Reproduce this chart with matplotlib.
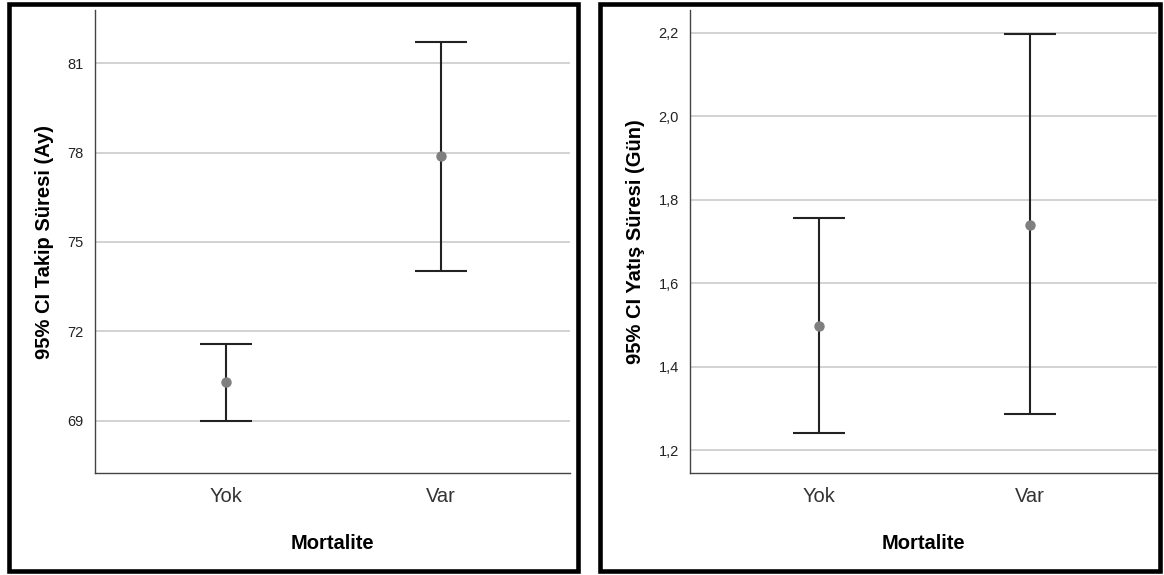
import matplotlib.pyplot as plt
from matplotlib.patches import Rectangle

plt.rcParams['font.family'] = ['Liberation Sans', 'DejaVu Sans']

# Data
groups = ['Yok', 'Var']

takip_mean = [70.31, 77.88]
takip_low = [69.00, 74.03]
takip_high = [71.59, 81.71]
takip_ticks = [69, 72, 75, 78, 81]
takip_ticklabels = ['69', '72', '75', '78', '81']

yatis_mean = [1.498, 1.740]
yatis_low = [1.241, 1.286]
yatis_high = [1.756, 2.197]
yatis_ticks = [1.2, 1.4, 1.6, 1.8, 2.0, 2.2]
yatis_ticklabels = ['1,2', '1,4', '1,6', '1,8', '2,0', '2,2']

fig = plt.figure(figsize=(11.64, 5.75), dpi=100)

# thick black panel frames
W, H = 1164, 575
for x0, x1 in [(9, 578), (600, 1160)]:
    fig.patches.append(Rectangle((x0 / W, 4 / H), (x1 - x0) / W, (571 - 4) / H,
                                 transform=fig.transFigure, fill=False,
                                 edgecolor='black', linewidth=3.3, zorder=0))

ax1 = fig.add_axes([95 / W, 102 / H, 475 / W, 463 / H])
ax2 = fig.add_axes([690 / W, 102 / H, 467 / W, 463 / H])


def draw_panel(ax, mean, low, high, ticks, ticklabels, ylim, ylabel, ypad):
    x = list(range(len(groups)))
    err = [[m - l for m, l in zip(mean, low)], [h - m for m, h in zip(mean, high)]]
    ax.errorbar(x, mean, yerr=err, fmt='none', ecolor='#222222', elinewidth=1.5,
                capsize=18.7, capthick=1.5, zorder=3)
    ax.plot(x, mean, 'o', color='#7f7f7f', markersize=6.5, zorder=4)

    ax.set_xlim(-0.61, 1.6)
    ax.set_ylim(*ylim)
    ax.set_xticks(x)
    ax.set_xticklabels(groups, fontsize=14.5, color='#333333')
    ax.set_yticks(ticks)
    ax.set_yticklabels(ticklabels, fontsize=10.5, color='#222222')
    ax.tick_params(axis='both', length=0)
    ax.tick_params(axis='x', pad=10)
    ax.tick_params(axis='y', pad=8)
    ax.yaxis.grid(True, color='#cfcfcf', linewidth=1.3)
    ax.set_axisbelow(True)

    for s in ['top', 'right']:
        ax.spines[s].set_visible(False)
    for s in ['left', 'bottom']:
        ax.spines[s].set_color('#444444')
        ax.spines[s].set_linewidth(1.0)

    ax.set_xlabel('Mortalite', fontsize=14.5, fontweight='bold', labelpad=20)
    ax.set_ylabel(ylabel, fontsize=14.5, fontweight='bold', labelpad=ypad)


draw_panel(ax1, takip_mean, takip_low, takip_high, takip_ticks, takip_ticklabels,
           (67.25, 82.78), '95% CI Takip Süresi (Ay)', 10)
draw_panel(ax2, yatis_mean, yatis_low, yatis_high, yatis_ticks, yatis_ticklabels,
           (1.145, 2.255), '95% CI Yatış Süresi (Gün)', 10)

fig.savefig('out.png', dpi=100)
